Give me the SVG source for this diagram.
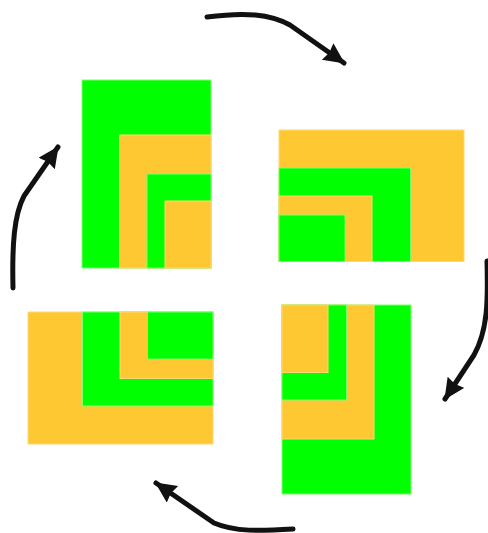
<svg xmlns="http://www.w3.org/2000/svg" width="488" height="533" viewBox="0 0 488 533">
<style>
.g{fill:#00ff00;stroke:#7dff6e;stroke-width:1}
.o{fill:#fec832;stroke:#ffd870;stroke-width:1}
.arr{fill:none;stroke:#111;stroke-width:5;stroke-linecap:round;stroke-linejoin:round;marker-end:url(#ah)}
</style>
<defs>
<marker id="ah" markerUnits="userSpaceOnUse" markerWidth="24" markerHeight="22" refX="20" refY="10" orient="auto" viewBox="0 0 24 22">
<path d="M0,0 L21,10 L0,20 L2,10 z" fill="#111"/>
</marker>
</defs>
<rect width="488" height="533" fill="#fff"/>
<g id="panel-top-left">
<rect class="g" x="82" y="80" width="129" height="188"/>
<rect class="o" x="119.5" y="135" width="91.5" height="133"/>
<rect class="g" x="147" y="174" width="64" height="94"/>
<rect class="o" x="165" y="201" width="46" height="67"/>
</g>
<g id="panel-top-right">
<rect class="o" x="279" y="130" width="185" height="131.5"/>
<rect class="g" x="279" y="168" width="131.5" height="93.5"/>
<rect class="o" x="279" y="196" width="93" height="65.5"/>
<rect class="g" x="279" y="215" width="66" height="46.5"/>
</g>
<g id="panel-bottom-left">
<rect class="o" x="28" y="312" width="185" height="132"/>
<rect class="g" x="82.5" y="312" width="130.5" height="94"/>
<rect class="o" x="120" y="312" width="93" height="66.5"/>
<rect class="g" x="147.5" y="312" width="65.5" height="47"/>
</g>
<g id="panel-bottom-right">
<rect class="g" x="282" y="305" width="129" height="189"/>
<rect class="o" x="282" y="305" width="92" height="134"/>
<rect class="g" x="282" y="305" width="64.5" height="95"/>
<rect class="o" x="282" y="305" width="46" height="67.5"/>
</g>
<g id="connectors">
<path class="arr" d="M207,17 C245,12 270,14 290,25 L344,63"/>
<path class="arr" d="M487,261 C488,300 488,330 474,355 L445,399"/>
<path class="arr" d="M293,529 C260,531 235,532 214,523 L156,483"/>
<path class="arr" d="M13,288 C12,245 14,215 24,196 L58,147"/>
</g>
</svg>
